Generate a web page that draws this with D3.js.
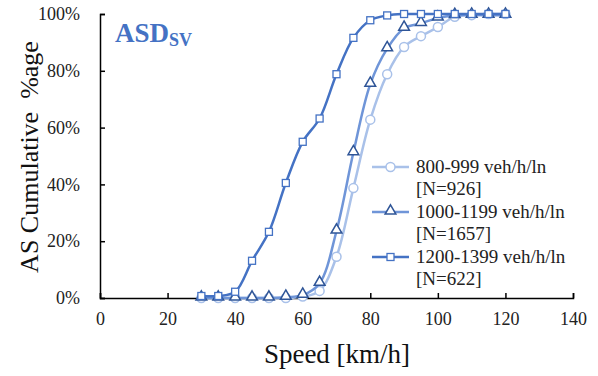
<!DOCTYPE html>
<html lang="en">
<head>
<meta charset="UTF-8">
<title>ASD SV cumulative</title>
<style>
  body { margin: 0; background: #fff; }
  svg { display: block; }
</style>
</head>
<body>
<div class="chart"></div>
<script src="https://d3js.org/d3.v7.min.js"></script>
<script>
  const speeds = [30, 35, 40, 45, 50, 55, 60, 65, 70, 75, 80, 85, 90, 95, 100, 105, 110, 115, 120]
  const low = [0, 0, 0, 0, 0, 0, 0.5, 2.5, 14.5, 38.7, 62.8, 78.8, 88.4, 92.2, 95.4, 99, 99.6, 100, 100]
  const mid = [0, 0, 0, 0, 0, 0.3, 1, 5.2, 23.6, 51.2, 75.3, 87.8, 95, 96.7, 98.6, 99.5, 99.6, 99.6, 99.6]
  const high = [0.7, 0.7, 2.2, 13.1, 23.3, 40.5, 55, 63.2, 78.8, 91.6, 97.8, 99.5, 100, 100, 100, 100, 100, 100, 100]
  const labels = ['800-999 veh/h/ln', '1000-1199 veh/h/ln', '1200-1399 veh/h/ln']
  const counts = ['[N=926]', '[N=1657]', '[N=622]']
  const xTicks = [0, 20, 40, 60, 80, 100, 120, 140]
  const yTicks = [0, 20, 40, 60, 80, 100]

  const series = [
    {values: low, line: '#a9c1e9', mark: '#a9c1e9', shape: 'circle'},
    {values: mid, line: '#6f95d8', mark: '#2f5597', shape: 'triangle'},
    {values: high, line: '#4472c4', mark: '#4472c4', shape: 'square'}
  ]

  const FONT = '"Liberation Serif", "Times New Roman", serif'
  const W = 598, H = 376
  const svg = d3.select('.chart').append('svg')
    .attr('width', W)
    .attr('height', H)
    .attr('font-family', FONT)

  const x = d3.scaleLinear().domain([0, 140]).range([100, 573])
  const y = d3.scaleLinear().domain([0, 100]).range([298, 14])

  // axes, ticks point inward
  const xAxis = svg.append('g')
    .attr('transform', 'translate(0,' + y(0) + ')')
    .call(d3.axisBottom(x).tickValues(xTicks).tickSize(-5).tickPadding(11))
  const yAxis = svg.append('g')
    .attr('transform', 'translate(' + x(0) + ',0)')
    .call(d3.axisLeft(y).tickValues(yTicks).tickSize(-5).tickPadding(20).tickFormat(d => d + '%'))

  ;[xAxis, yAxis].forEach(g => {
    g.attr('font-family', FONT).attr('font-size', null)
    g.select('.domain').attr('stroke', '#000').attr('stroke-width', 1.5)
    g.selectAll('.tick line').attr('stroke', '#000').attr('stroke-width', 1.5)
    g.selectAll('.tick text')
      .attr('fill', '#222')
      .attr('font-size', '18px')
  })
  xAxis.selectAll('.tick text').attr('dy', '0.9em')

  svg.append('text')
    .attr('x', 337)
    .attr('y', 363)
    .attr('text-anchor', 'middle')
    .attr('font-size', '27px')
    .attr('fill', '#111')
    .text('Speed [km/h]')

  svg.append('text')
    .attr('transform', 'translate(38,' + 157 + ') rotate(-90)')
    .attr('text-anchor', 'middle')
    .attr('font-size', '26px')
    .attr('fill', '#111')
    .attr('xml:space', 'preserve')
    .style('white-space', 'pre')
    .text('AS Cumulative  %age')

  const title = svg.append('text')
    .attr('x', 115)
    .attr('y', 42)
    .attr('fill', '#4472c4')
    .attr('font-weight', 'bold')
    .attr('font-size', '27px')
  title.append('tspan').text('ASD')
  title.append('tspan').attr('font-size', '18px').attr('dy', 4).text('SV')

  const line = d3.line()
    .x((d, i) => x(speeds[i]))
    .y(d => y(d))
    .curve(d3.curveCatmullRom.alpha(0.5))

  function marker(g, shape, color, cx, cy) {
    if (shape === 'circle') {
      g.append('circle').attr('cx', cx).attr('cy', cy).attr('r', 4.5)
        .attr('fill', '#fff').attr('stroke', color).attr('stroke-width', 1.5)
    } else if (shape === 'triangle') {
      g.append('path')
        .attr('d', d3.symbol().type(d3.symbolTriangle).size(50)())
        .attr('transform', 'translate(' + cx + ',' + (cy - 1) + ')')
        .attr('fill', '#fff').attr('stroke', color).attr('stroke-width', 1.5)
    } else {
      g.append('rect').attr('x', cx - 3.5).attr('y', cy - 3.5).attr('width', 7).attr('height', 7)
        .attr('fill', '#fff').attr('stroke', color).attr('stroke-width', 1.3)
    }
  }

  series.forEach(s => {
    const g = svg.append('g')
    g.append('path')
      .attr('d', line(s.values))
      .attr('fill', 'none')
      .attr('stroke', s.line)
      .attr('stroke-width', 2.5)
    s.values.forEach((v, i) => marker(g, s.shape, s.mark, x(speeds[i]), y(v)))
  })

  // legend
  const legend = svg.append('g')
  series.forEach((s, i) => {
    const ly = 167 + i * 45
    legend.append('line')
      .attr('x1', 372).attr('x2', 409)
      .attr('y1', ly).attr('y2', ly)
      .attr('stroke', s.line).attr('stroke-width', 2.5)
    marker(legend, s.shape, s.mark, 390.5, ly)
    legend.append('text')
      .attr('x', 416).attr('y', ly + 6)
      .attr('font-size', '19px').attr('fill', '#222')
      .text(labels[i])
    legend.append('text')
      .attr('x', 416).attr('y', ly + 28)
      .attr('font-size', '19px').attr('fill', '#222')
      .text(counts[i])
  })
</script>
</body>
</html>
